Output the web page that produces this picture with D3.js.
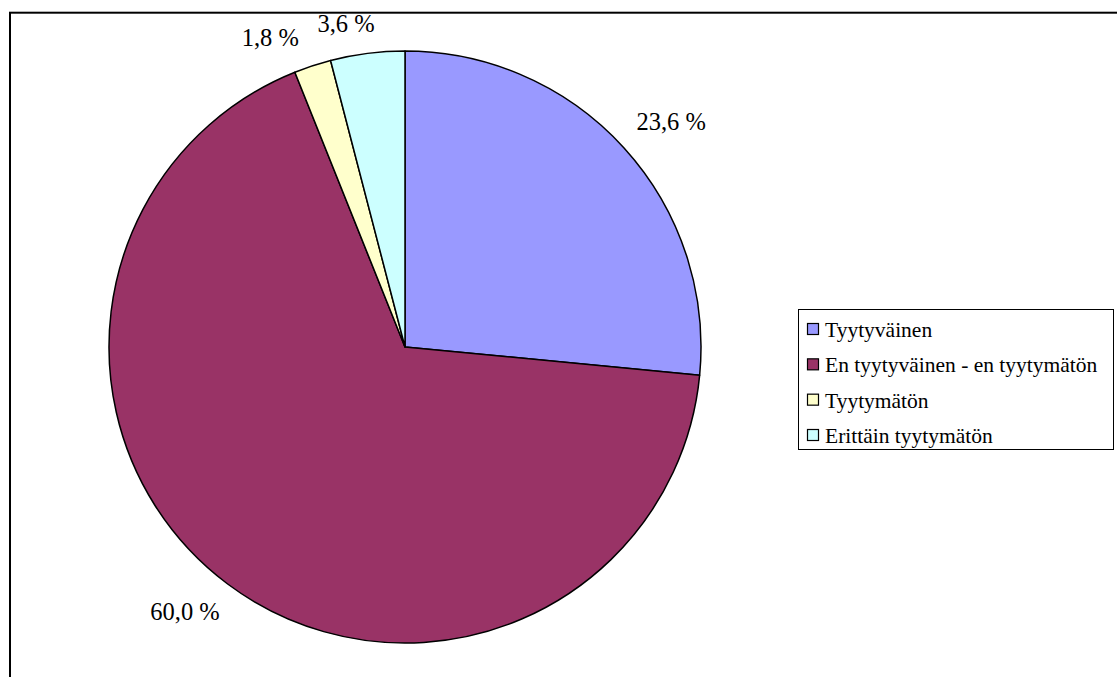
<!DOCTYPE html>
<html><head><meta charset="utf-8">
<script src="https://cdn.jsdelivr.net/npm/d3@7"></script>
<style>html,body{margin:0;padding:0;background:#fff;overflow:hidden}
text{font-family:"Liberation Serif","Times New Roman",Times,serif;}</style>
</head><body>
<svg id="chart" width="1117" height="677"></svg>
<script>
const categories = ["Tyytyväinen", "En tyytyväinen - en tyytymätön", "Tyytymätön", "Erittäin tyytymätön"];
const values = [23.6, 60.0, 1.8, 3.6];
const labels = ["23,6 %", "60,0 %", "1,8 %", "3,6 %"];
const colors = ["#9999FF", "#993366", "#FFFFCC", "#CCFFFF"];

const W = 1117, H = 677;
const cx = 405, cy = 347, R = 296;
const labelR = 325;
const labelAngleAdjust = [0, 0.9, -4.2, -2.5];
const labelRadiusAdjust = [0, 0, 0, -6];
const svg = d3.select("#chart");

// frame
svg.append("rect").attr("x", 10).attr("y", 12.7).attr("width", W + 20).attr("height", H + 20)
  .attr("fill", "none").attr("stroke", "#000").attr("stroke-width", 2);

const pie = d3.pie().sort(null).value(d => d)(values);
const arc = d3.arc().innerRadius(0).outerRadius(R);
const g = svg.append("g").attr("transform", `translate(${cx},${cy})`);
g.selectAll("path").data(pie).join("path")
  .attr("d", arc)
  .attr("fill", (d, i) => colors[i])
  .attr("stroke", "#000").attr("stroke-width", 1.5).attr("stroke-linejoin", "round");

// labels
const lfs = 24.5;
pie.forEach((d, i) => {
  const a = (d.startAngle + d.endAngle) / 2 + labelAngleAdjust[i] * Math.PI / 180;
  const r = labelR + labelRadiusAdjust[i];
  const t = g.append("text").text(labels[i])
    .style("font-size", lfs + "px").attr("fill", "#000")
    .attr("text-anchor", "middle");
  const w = t.node().getComputedTextLength();
  const h = lfs * 0.78;
  const px = r * Math.sin(a), py = -r * Math.cos(a);
  const x = px + Math.sin(a) * w / 2;
  const y = py - Math.cos(a) * h / 2;
  t.attr("x", x).attr("y", y + lfs * 0.34);
});

// legend
const lg = svg.append("g");
const lx = 798, ly = 309, lw = 315, lh = 140;
lg.append("rect").attr("x", lx + 0.5).attr("y", ly + 0.5).attr("width", lw).attr("height", lh)
  .attr("fill", "#fff").attr("stroke", "#000").attr("stroke-width", 1);
const rowY = d3.scalePoint().domain(categories).range([330, 436]);
categories.forEach((c, i) => {
  const y = rowY(c);
  lg.append("rect").attr("x", 807.5).attr("y", y - 6.5).attr("width", 11).attr("height", 11)
    .attr("fill", colors[i]).attr("stroke", "#000").attr("stroke-width", 1.2);
  lg.append("text").attr("x", 825).attr("y", y + 7)
    .style("font-size", "21.5px").attr("fill", "#000").text(c);
});
</script>
</body></html>
